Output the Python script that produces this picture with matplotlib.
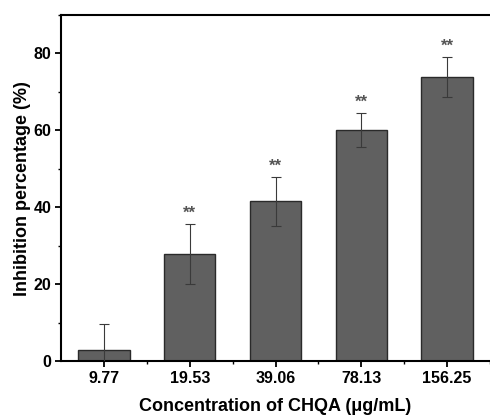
import matplotlib
matplotlib.use("Agg")
import matplotlib.pyplot as plt
from matplotlib.ticker import MultipleLocator
import numpy as np

# values
concentrations = ["9.77", "19.53", "39.06", "78.13", "156.25"]
inhibition = [2.9, 27.9, 41.6, 60.1, 73.8]
errors = [6.7, 7.8, 6.4, 4.5, 5.2]
marks = ["", "**", "**", "**", "**"]

plt.rcParams["font.family"] = ["Liberation Sans", "DejaVu Sans"]
plt.rcParams["font.weight"] = "bold"

fig = plt.figure(figsize=(4.9, 4.17), dpi=100)
ax = fig.add_axes([0.1245, 0.134, 0.8755, 0.83])

x = np.arange(len(concentrations))
ax.bar(x, inhibition, width=0.6, color="#606060", edgecolor="#2a2a2a", linewidth=1.0, zorder=2)
ax.errorbar(x, inhibition, yerr=errors, fmt="none", ecolor="#3a3a3a",
            elinewidth=0.8, capsize=3.5, capthick=0.8, zorder=3)

for xi, v, e, m in zip(x, inhibition, errors, marks):
    if m:
        ax.text(xi, v + e + 0.8, m, ha="center", va="bottom", fontsize=12,
                color="#555555", fontweight="bold")

ax.set_xlim(-0.5, 4.5)
ax.set_ylim(0, 90)
ax.set_xticks(x)
ax.set_xticklabels(concentrations)
ax.set_xticks(x + 0.5, minor=True)
ax.yaxis.set_major_locator(MultipleLocator(20))
ax.yaxis.set_minor_locator(MultipleLocator(10))

for s in ["left", "bottom", "top"]:
    ax.spines[s].set_linewidth(1.5)
ax.spines["right"].set_visible(False)

ax.tick_params(axis="both", which="major", direction="out", length=4, width=1.3,
               labelsize=11.5, pad=3)
ax.tick_params(axis="both", which="minor", direction="out", length=2.5, width=1.0)
ax.tick_params(axis="x", which="both", top=False)

ax.set_xlabel("Concentration of CHQA (\u03bcg/mL)", fontsize=13, fontweight="bold", labelpad=9)
ax.set_ylabel("Inhibition percentage (%)", fontsize=13, fontweight="bold", labelpad=2)

fig.savefig("out.png", dpi=100)
